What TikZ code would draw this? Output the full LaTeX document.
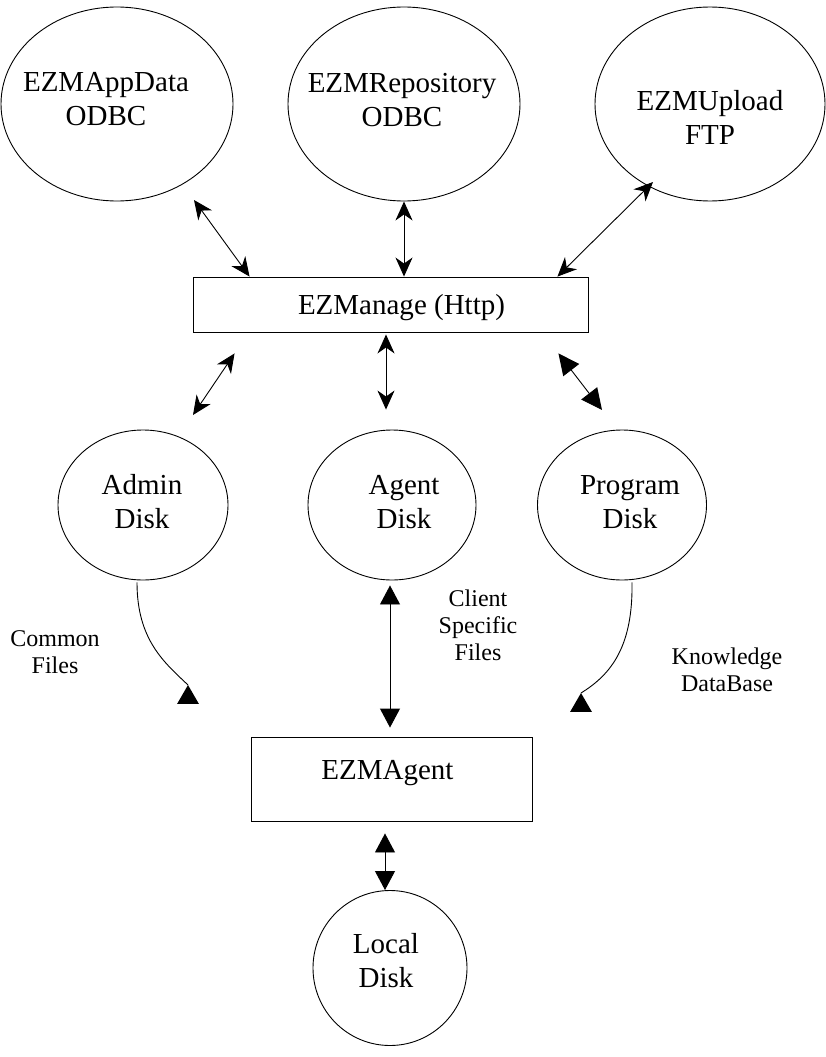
\documentclass[tikz,border=0pt]{standalone}
\usepackage{fontspec}
\setmainfont{Liberation Serif}
\usetikzlibrary{shapes.geometric,arrows.meta,calc}
\begin{document}
\begin{tikzpicture}[x=1pt,y=-1pt,line width=0.9pt,
	big/.style={font=\fontsize{29}{34}\selectfont,align=center,inner sep=0pt},
	small/.style={font=\fontsize{24}{27}\selectfont,align=center,inner sep=0pt},
	disk/.style={ellipse,draw,inner sep=0pt},
	box/.style={rectangle,draw,inner sep=0pt},
	notch/.style={{Stealth[length=19pt,width=17pt,inset=6pt]}-{Stealth[length=19pt,width=17pt,inset=6pt]}},
	fat/.style={{Triangle[length=21pt,width=20pt]}-{Triangle[length=21pt,width=20pt]}},
	solid/.style={{Triangle[length=19pt,width=20pt]}-{Triangle[length=19pt,width=20pt]}},
	headtri/.style={regular polygon,regular polygon sides=3,fill,inner sep=0pt,outer sep=0pt,minimum size=25pt}]
	\useasboundingbox (0,0) rectangle (826,1057);
	
	%data sources
	\node[disk,minimum width=232pt,minimum height=194pt,label={[big,xshift=-11pt,yshift=5pt]center:EZMAppData\\ODBC}] (appdata) at (117,104) {};
	\node[disk,minimum width=232pt,minimum height=194pt,label={[big,xshift=-2pt,yshift=4pt]center:EZMRepository\\ODBC}] (repo) at (404,104) {};
	\node[disk,minimum width=230pt,minimum height=194pt,label={[big,yshift=-13pt]center:EZMUpload\\FTP}] (upload) at (710,104) {};
	\node[box,minimum width=395pt,minimum height=55pt,label={[big,xshift=11pt,yshift=-3.5pt]center:EZManage (Http)}] (manage) at (390.5,304.5) {};
	
	%disks
	\node[disk,minimum width=170pt,minimum height=150pt,label={[big,xshift=-1pt,yshift=3.5pt]center:Admin\\Disk}] (admin) at (143,505) {};
	\node[disk,minimum width=168pt,minimum height=150pt,label={[big,xshift=12pt,yshift=3pt]center:Agent\\Disk}] (agentdisk) at (392,505) {};
	\node[disk,minimum width=169pt,minimum height=150pt,label={[big,xshift=8pt,yshift=3pt]center:Program\\Disk}] (program) at (622,505) {};
	
	%agent
	\node[box,minimum width=281pt,minimum height=84pt,label={[big,xshift=-4pt,yshift=5.5pt]center:EZMAgent}] (agent) at (391.5,779) {};
	\node[disk,minimum width=154pt,minimum height=155pt,label={[big,xshift=-4pt,yshift=7pt]center:Local\\Disk}] (local) at (390,968) {};
	
	%links to EZManage
	\draw[notch] ($(appdata)+(77,96)$) -- ($(manage.north west)+(57,0)$);
	\draw[notch] (repo.south) -- (repo.south |- manage.north);
	\draw[notch] ($(upload)+(-57,78)$) -- ($(manage.north east)+(-31,0)$);
	\draw[notch] ($(manage.south west)+(42,21)$) -- ($(admin)+(50,-90)$);
	\draw[notch] ($(manage.south)+(-4.5,2)$) -- ($(agentdisk.north)+(-6,-20)$);
	\draw[fat] ($(manage.south east)+(-30,21)$) -- ($(program)+(-20,-95)$);
	
	%files to EZMAgent
	\coordinate (cftip) at (188,685);
	\coordinate (kbtip) at (581,693);
	\draw ($(admin.south)+(-6,2)$) .. controls +(0,58) and +(-23,-22) .. (cftip);
	\node[headtri,anchor=corner 1] (cfhead) at (cftip) {};
	\draw ($(program.south)+(10,2)$) .. controls +(1,63) and +(31,-19) .. (kbtip);
	\node[headtri,anchor=corner 1] (kbhead) at (kbtip) {};
	\draw[solid] ($(agentdisk.south)+(-2,5)$) -- ($(agent.north)+(-1.5,-9)$);
	\draw[solid] ($(agent.south)+(-6.5,12)$) -- ($(local.north)+(-5,0)$);
	
	\node[small] (commonlbl) at (55,652) {Common\\Files};
	\node[small] (clientlbl) at (478,625) {Client\\Specific\\Files};
	\node[small] (knowlbl) at (727,670) {Knowledge\\DataBase};
\end{tikzpicture}
\end{document}
